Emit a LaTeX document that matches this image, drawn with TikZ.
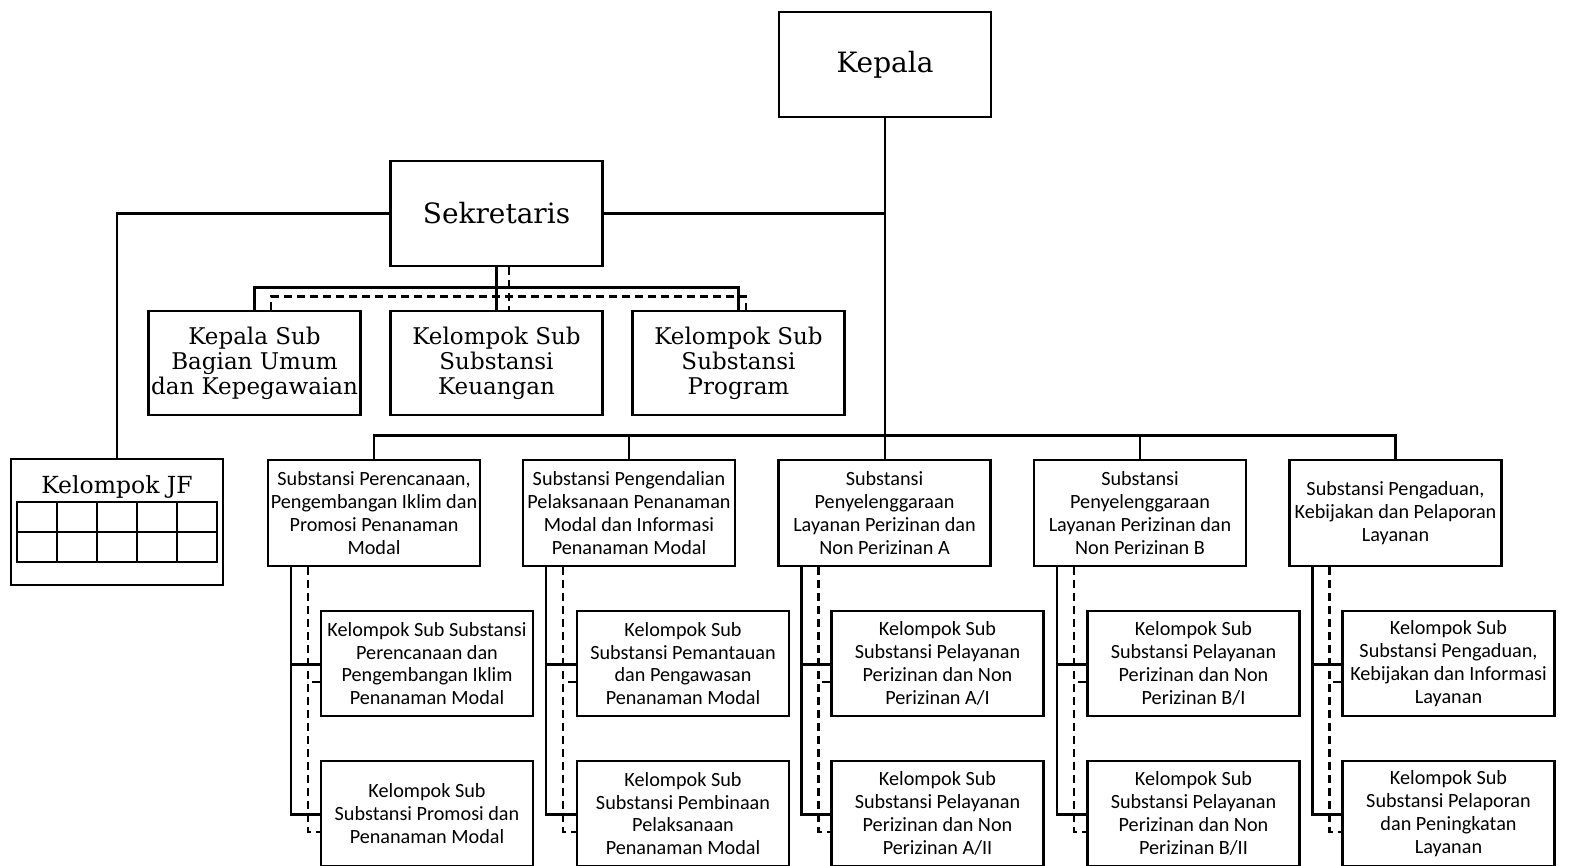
\documentclass[tikz,border=0pt]{standalone}
\usepackage{fontspec}
\setmainfont{DejaVu Serif}
\newfontfamily\calib{Carlito}
\tikzset{
  x=1pt,y=-1pt,
  box/.style={draw,line width=2.6pt,minimum width=212pt,inner sep=0pt,align=center},
  sbox/.style={box,minimum height=106pt,font=\calib\fontsize{20.2}{22.8}\selectfont},
  serifbig/.style={box,minimum height=105pt,font=\fontsize{28}{32}\selectfont},
  serifmid/.style={box,minimum height=104pt,font=\fontsize{23}{25}\selectfont},
  ln/.style={line width=2.6pt},
  dsh/.style={line width=2.8pt,dash pattern=on 8pt off 5pt},
}
\begin{document}
\begin{tikzpicture}
\useasboundingbox (0,0) rectangle (1571,866);
% top
\node[serifbig] (kep) at (885,64.5) {Kepala};
\node[serifbig] (sek) at (496.5,213.5) {Sekretaris};
\node[serifmid] (k1) at (254.5,363) {Kepala Sub\\Bagian Umum\\dan Kepegawaian};
\node[serifmid] (k2) at (496.5,363) {Kelompok Sub\\Substansi\\Keuangan};
\node[serifmid] (k3) at (738.5,363) {Kelompok Sub\\Substansi\\Program};
% JF
\node[box,minimum height=126pt] (jf) at (117,522) {};
\node[font=\fontsize{23.5}{25}\selectfont,inner sep=0pt] (jflbl) at (117,487) {Kelompok JF};
\draw[line width=2pt] ([shift={(-100,-20)}]jf.center) rectangle ([shift={(100,40)}]jf.center);
\draw[line width=2pt] ([shift={(-100,10)}]jf.center) -- ([shift={(100,10)}]jf.center);
\foreach \i in {-60,-20,20,60}{
  \draw[line width=2pt] ([shift={(\i,-20)}]jf.center) -- ([shift={(\i,40)}]jf.center);
}
% substansi
\node[sbox] (s1) at (374,513) {Substansi Perencanaan,\\Pengembangan Iklim dan\\Promosi Penanaman\\Modal};
\node[sbox] (s2) at (629,513) {Substansi Pengendalian\\Pelaksanaan Penanaman\\Modal dan Informasi\\Penanaman Modal};
\node[sbox] (s3) at (884.5,513) {Substansi\\Penyelenggaraan\\Layanan Perizinan dan\\Non Perizinan A};
\node[sbox] (s4) at (1140,513) {Substansi\\Penyelenggaraan\\Layanan Perizinan dan\\Non Perizinan B};
\node[sbox] (s5) at (1395.5,513) {Substansi Pengaduan,\\Kebijakan dan Pelaporan\\Layanan};
% row 1
\node[sbox,minimum height=105pt] (a1) at (427,663.5) {Kelompok Sub Substansi\\Perencanaan dan\\Pengembangan Iklim\\Penanaman Modal};
\node[sbox,minimum height=105pt] (a2) at (683,663.5) {Kelompok Sub\\Substansi Pemantauan\\dan Pengawasan\\Penanaman Modal};
\node[sbox,minimum height=105pt] (a3) at (937.5,663.5) {Kelompok Sub\\Substansi Pelayanan\\Perizinan dan Non\\Perizinan A/I};
\node[sbox,minimum height=105pt] (a4) at (1193.5,663.5) {Kelompok Sub\\Substansi Pelayanan\\Perizinan dan Non\\Perizinan B/I};
\node[sbox,minimum height=105pt] (a5) at (1448.5,663.5) {Kelompok Sub\\Substansi Pengaduan,\\Kebijakan dan Informasi\\Layanan};
% row 2
\node[sbox,minimum height=105pt] (b1) at (427,813.5) {Kelompok Sub\\Substansi Promosi dan\\Penanaman Modal};
\node[sbox,minimum height=105pt] (b2) at (683,813.5) {Kelompok Sub\\Substansi Pembinaan\\Pelaksanaan\\Penanaman Modal};
\node[sbox,minimum height=105pt] (b3) at (937.5,813.5) {Kelompok Sub\\Substansi Pelayanan\\Perizinan dan Non\\Perizinan A/II};
\node[sbox,minimum height=105pt] (b4) at (1193.5,813.5) {Kelompok Sub\\Substansi Pelayanan\\Perizinan dan Non\\Perizinan B/II};
\node[sbox,minimum height=105pt] (b5) at (1448.5,813.5) {Kelompok Sub\\Substansi Pelaporan\\dan Peningkatan\\Layanan};
% main connectors
\draw[ln] (kep.south) -- (kep.south |- s3.north);
\draw[ln] (s1.north) -- ++(0,-23) -| (s5.north);
\draw[ln] (s2.north) -- ++(0,-23);
\draw[ln] (s4.north) -- ++(0,-23);
\draw[ln] (sek.east) -- (sek.east -| kep.south);
\draw[ln] (sek.west) -| (jf.north);
% sekretaris children
\draw[ln] (sek.south) -- (k2.north);
\draw[ln] (k1.north) -- ++(0,-22) -| (k3.north);
\draw[dsh] ([xshift=12.5pt]sek.south) -- ([xshift=12.5pt]k2.north);
\draw[dsh] ([xshift=16.5pt]k1.north) -- ++(0,-13) -| ([xshift=7.5pt]k3.north);
% columns
\foreach \s/\a/\b in {s1/a1/b1,s2/a2/b2,s3/a3/b3,s4/a4/b4,s5/a5/b5}{
  \draw[ln] ([xshift=-83pt]\s.south) |- ([yshift=-1pt]\a.west);
  \draw[ln] ([xshift=-83pt]\s.south) |- ([yshift=-1pt]\b.west);
  \draw[dsh] ([xshift=-66pt]\s.south) |- ([yshift=-18.5pt]\b.west);
  \draw[dsh] ([yshift=-18.5pt]\a.west) -- ++(-13,0);
}
\end{tikzpicture}
\end{document}
